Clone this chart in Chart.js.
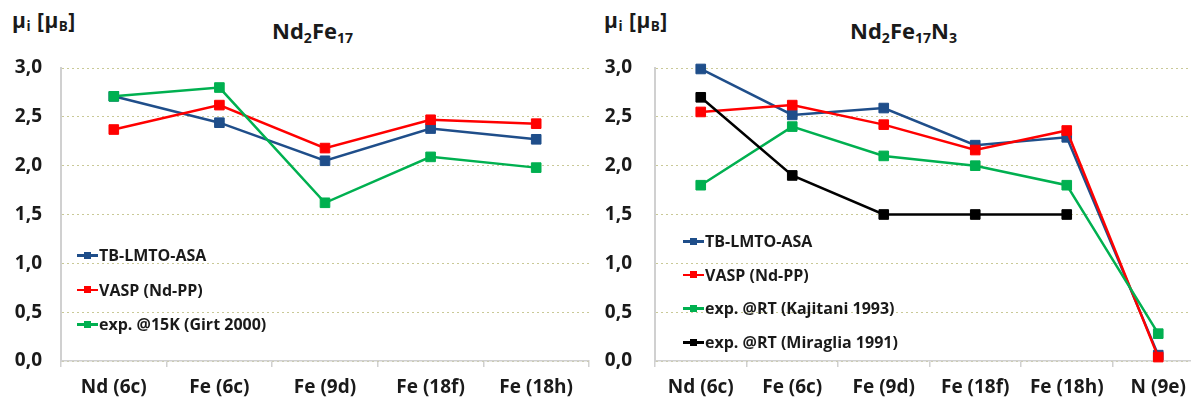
<!DOCTYPE html>
<html>
<head>
<meta charset="utf-8">
<script src="https://cdn.jsdelivr.net/npm/chart.js@4/dist/chart.umd.min.js"></script>
<style>
  html, body { margin:0; padding:0; background:#fff; overflow:hidden; width:1191px; height:403px; }
  body { position:relative; font-family: "Open Sans", Lato, sans-serif; font-weight:bold; color:#1a1a1a; }
  canvas { position:absolute; top:0; }
  .lbl { position:absolute; white-space:nowrap; line-height:1.2; }
  .lbl sub { font-size:64%; vertical-align:-0.25em; line-height:0; }
  .leg { position:absolute; display:flex; align-items:center; font-size:16px; white-space:nowrap; height:20px; }
  .sw { position:relative; width:21px; height:20px; margin-right:1px; }
  .sw .ln { position:absolute; left:0; right:0; top:9px; height:2.5px; }
  .sw .mk { position:absolute; left:7px; top:6.5px; width:7px; height:7px; }
</style>
</head>
<body>
<div class="lbl" style="left:12px; top:8px; font-size:21px; letter-spacing:0.5px;">μ<sub>i</sub> [μ<sub>B</sub>]</div>
<div class="lbl" style="left:604px; top:8px; font-size:21px; letter-spacing:0.5px;">μ<sub>i</sub> [μ<sub>B</sub>]</div>
<div class="lbl" style="left:272px; top:17px; font-size:22px;">Nd<sub>2</sub>Fe<sub>17</sub></div>
<div class="lbl" style="left:850px; top:17px; font-size:22px;">Nd<sub>2</sub>Fe<sub>17</sub>N<sub>3</sub></div>
<canvas id="c1" width="600" height="403" style="left:0px; width:600px; height:403px;"></canvas>
<canvas id="c2" width="625" height="403" style="left:590px; width:625px; height:403px;"></canvas>
<div id="legends"></div>
<script>
// ---------- data ----------
const catsA = ["Nd (6c)", "Fe (6c)", "Fe (9d)", "Fe (18f)", "Fe (18h)"];
const catsB = ["Nd (6c)", "Fe (6c)", "Fe (9d)", "Fe (18f)", "Fe (18h)", "N (9e)"];
const yTickLabels = ["0,0", "0,5", "1,0", "1,5", "2,0", "2,5", "3,0"];

const labelsA = ["TB-LMTO-ASA", "VASP (Nd-PP)", "exp. @15K (Girt 2000)"];
const tbA   = [2.71, 2.44, 2.05, 2.38, 2.27];
const vaspA = [2.37, 2.62, 2.18, 2.47, 2.43];
const girtA = [2.71, 2.80, 1.62, 2.09, 1.98];

const labelsB = ["TB-LMTO-ASA", "VASP (Nd-PP)", "exp. @RT (Kajitani 1993)", "exp. @RT (Miraglia 1991)"];
const tbB    = [2.99, 2.52, 2.59, 2.21, 2.29, 0.06];
const vaspB  = [2.55, 2.62, 2.42, 2.16, 2.36, 0.04];
const kajB   = [1.80, 2.40, 2.10, 2.00, 1.80, 0.28];
const miraB  = [2.70, 1.90, 1.50, 1.50, 1.50, null];

const colors = ["#1F4E8A", "#FF0000", "#00B050", "#000000"];

// ---------- helpers ----------
const FONT = "'Open Sans', Lato, sans-serif";
function mkDatasets(labels, series) {
  return series.map((d, i) => ({
    label: labels[i],
    data: d,
    borderColor: colors[i],
    backgroundColor: colors[i],
    pointBackgroundColor: colors[i],
    pointBorderColor: colors[i],
    borderWidth: 2.5,
    pointStyle: 'rect',
    pointRadius: 6.8,
    pointBorderWidth: 1,
    tension: 0,
    spanGaps: false,
    order: -i,
    clip: false
  }));
}
function mkChart(id, cats, datasets, yWidth, yPad, padRight) {
  return new Chart(document.getElementById(id), {
    type: 'line',
    data: { labels: cats, datasets },
    options: {
      responsive: false,
      animation: false,
      layout: { autoPadding: false, padding: { left: 0, top: 68, right: padRight, bottom: 0 } },
      plugins: { legend: { display: false }, tooltip: { enabled: false }, title: { display: false } },
      scales: {
        x: {
          offset: true,
          grid: { offset: true, drawOnChartArea: false, drawTicks: true, tickLength: 6, color: '#D0D0D0', lineWidth: 1.5 },
          border: { display: true, color: '#D0D0D0', width: 1.5 },
          ticks: { color: '#1a1a1a', font: { family: FONT, size: 19, weight: 'bold' }, padding: 9, maxRotation: 0, autoSkip: false },
          afterFit: s => { s.height = 42; }
        },
        y: {
          min: 0, max: 3,
          grid: { drawTicks: false, color: 'rgba(195,195,140,0.9)', lineWidth: 1 },
          border: { display: true, color: '#D0D0D0', width: 2, dash: [2, 3] },
          ticks: {
            stepSize: 0.5, padding: yPad, color: '#1a1a1a',
            font: { family: FONT, size: 19, weight: 'bold' },
            callback: (v, idx) => yTickLabels[idx]
          },
          afterFit: s => { s.width = yWidth; }
        }
      }
    }
  });
}

const chA = mkChart('c1', catsA, mkDatasets(labelsA, [tbA, vaspA, girtA]), 61, 19, 11);
const chB = mkChart('c2', catsB, mkDatasets(labelsB, [tbB, vaspB, kajB, miraB]), 65, 23, 11);

// ---------- legends (HTML, from dataset labels/colours) ----------
function mkLegend(chart, left, firstY, step) {
  const host = document.getElementById('legends');
  chart.data.datasets.forEach((ds, i) => {
    const row = document.createElement('div');
    row.className = 'leg';
    row.style.left = left + 'px';
    row.style.top = (firstY + i * step - 10) + 'px';
    const sw = document.createElement('div'); sw.className = 'sw';
    const ln = document.createElement('div'); ln.className = 'ln'; ln.style.background = ds.borderColor;
    const mk = document.createElement('div'); mk.className = 'mk'; mk.style.background = ds.borderColor;
    sw.appendChild(ln); sw.appendChild(mk);
    const tx = document.createElement('span'); tx.textContent = ds.label;
    row.appendChild(sw); row.appendChild(tx);
    host.appendChild(row);
  });
}
mkLegend(chA, 77, 255, 34.5);
mkLegend(chB, 683, 241, 33.7);
</script>
</body>
</html>
